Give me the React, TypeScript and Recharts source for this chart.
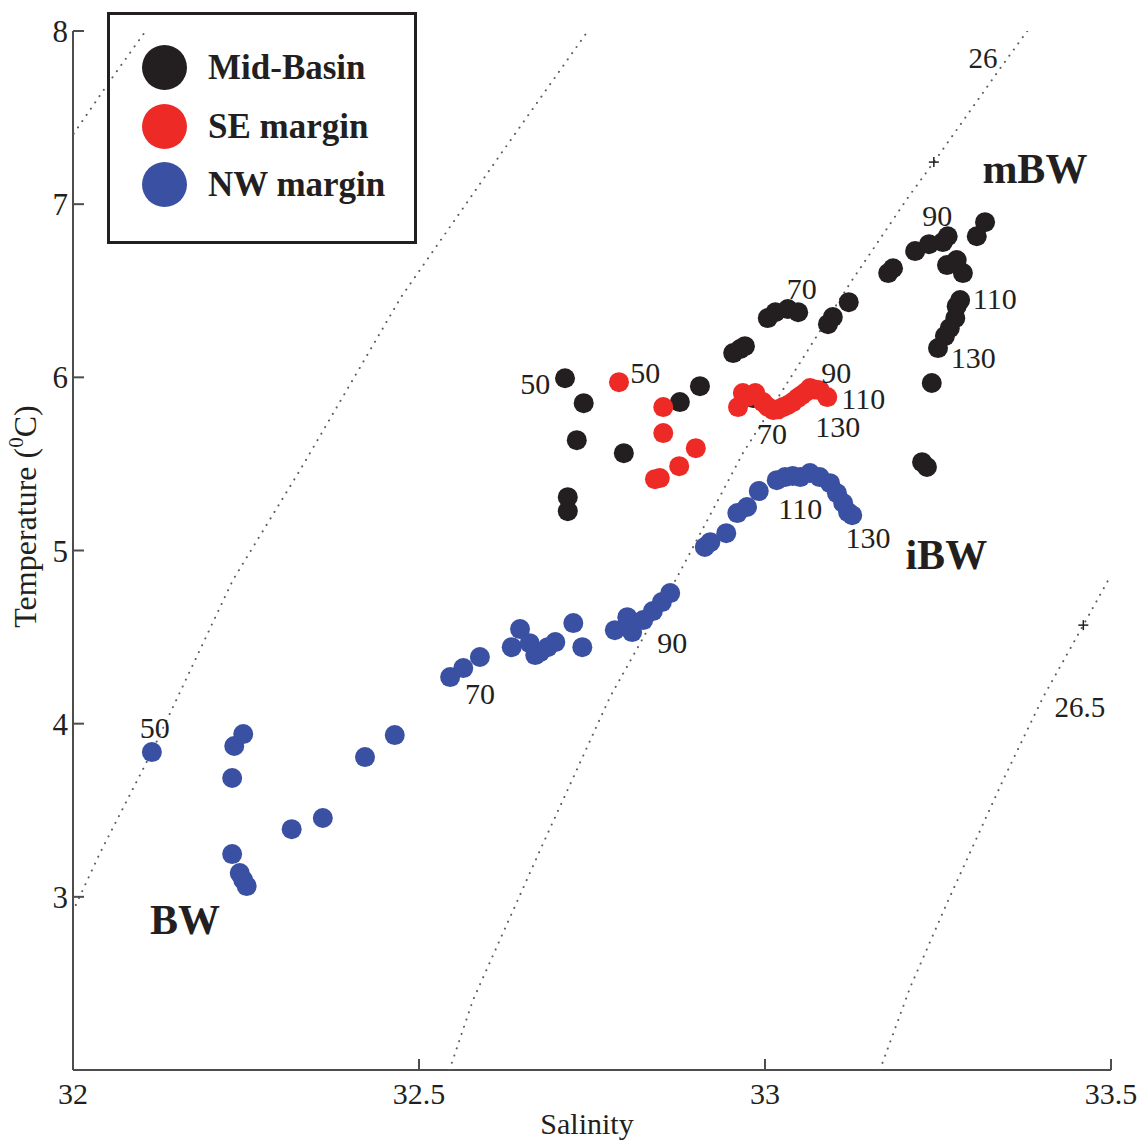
import { Label, Legend, Scatter, ScatterChart, XAxis, YAxis } from 'recharts';

const INK = '#231f20';
const AXIS_GREY = '#4d4d4d';
const DOT_GREY = '#5e5e5e';
const FONT = '"Liberation Serif", "Times New Roman", serif';

// [salinity, temperature]
const midBasin: [number, number][] = [
	[32.711, 5.995], [32.738, 5.851], [32.728, 5.637], [32.715, 5.308], [32.715, 5.227],
	[32.796, 5.562], [32.877, 5.857], [32.906, 5.949], [32.954, 6.14], [32.964, 6.163],
	[32.971, 6.18], [32.983, 5.88], [33.004, 6.342], [33.015, 6.376], [33.033, 6.394],
	[33.048, 6.376], [33.091, 6.307], [33.098, 6.348], [33.121, 6.434], [33.178, 6.602],
	[33.185, 6.63], [33.217, 6.729], [33.237, 6.769], [33.257, 6.781], [33.264, 6.815],
	[33.263, 6.648], [33.277, 6.677], [33.286, 6.602], [33.306, 6.815], [33.318, 6.896],
	[33.282, 6.446], [33.277, 6.411], [33.275, 6.342], [33.267, 6.284], [33.26, 6.238],
	[33.25, 6.169], [33.241, 5.967], [33.227, 5.51], [33.234, 5.482],
];

const seMargin: [number, number][] = [
	[32.789, 5.972], [32.853, 5.828], [32.853, 5.678], [32.9, 5.591], [32.876, 5.487],
	[32.848, 5.418], [32.841, 5.412], [32.961, 5.828], [32.968, 5.909], [32.976, 5.89],
	[32.986, 5.909], [32.997, 5.857], [33.004, 5.83], [33.012, 5.811], [33.019, 5.815],
	[33.026, 5.828], [33.033, 5.84], [33.04, 5.857], [33.047, 5.88], [33.053, 5.897],
	[33.059, 5.915], [33.065, 5.938], [33.072, 5.93], [33.079, 5.926], [33.09, 5.886],
];

const nwMargin: [number, number][] = [
	[32.114, 3.836], [32.23, 3.686], [32.233, 3.871], [32.246, 3.94], [32.23, 3.247],
	[32.241, 3.137], [32.246, 3.097], [32.251, 3.062], [32.316, 3.391], [32.361, 3.455],
	[32.422, 3.807], [32.465, 3.934], [32.545, 4.269], [32.564, 4.321], [32.588, 4.385],
	[32.634, 4.442], [32.646, 4.546], [32.66, 4.465], [32.668, 4.396], [32.675, 4.413],
	[32.686, 4.442], [32.697, 4.471], [32.723, 4.581], [32.736, 4.442], [32.783, 4.54],
	[32.801, 4.615], [32.808, 4.529], [32.824, 4.598], [32.838, 4.65], [32.851, 4.702],
	[32.863, 4.754], [32.913, 5.02], [32.921, 5.048], [32.944, 5.1], [32.96, 5.216],
	[32.974, 5.251], [32.991, 5.343], [33.017, 5.406], [33.029, 5.424], [33.04, 5.43],
	[33.051, 5.424], [33.065, 5.447], [33.079, 5.424], [33.094, 5.389], [33.104, 5.331],
	[33.113, 5.274], [33.12, 5.222], [33.126, 5.204],
];

// dotted sigma-t isopycnals
const sigma250: [number, number][] = [[32.001, 7.407], [32.053, 7.71], [32.105, 8.0]];
const sigma255: [number, number][] = [
	[32.004, 2.953], [32.039, 3.253], [32.113, 3.83], [32.231, 4.829],
	[32.328, 5.464], [32.474, 6.463], [32.617, 7.283], [32.744, 8.0],
];
const sigma260: [number, number][] = [
	[32.544, 2.0], [32.578, 2.404], [32.675, 3.27], [32.776, 4.154], [32.873, 4.846],
	[32.968, 5.562], [33.032, 5.967], [33.123, 6.544], [33.205, 7.029], [33.244, 7.243],
	[33.34, 7.785], [33.379, 8.0],
];
const sigma265: [number, number][] = [
	[33.166, 2.0], [33.21, 2.479], [33.263, 2.964], [33.344, 3.674],
	[33.402, 4.154], [33.46, 4.569], [33.5, 4.858],
];
const isoMarks: [number, number][] = [[33.244, 7.243], [33.46, 4.569]];
const isoLabels: [string, number, number][] = [['26', 33.315, 7.843], ['26.5', 33.455, 4.096]];

const depthLabels: [string, number, number][] = [
	['50', 32.668, 5.967], ['70', 33.053, 6.515], ['90', 33.249, 6.937], ['110', 33.332, 6.457], ['130', 33.301, 6.117],
	['50', 32.827, 6.03], ['70', 33.01, 5.678], ['90', 33.103, 6.03], ['110', 33.142, 5.88], ['130', 33.105, 5.715],
	['50', 32.118, 3.975], ['70', 32.588, 4.177], ['90', 32.866, 4.471], ['110', 33.051, 5.245], ['130', 33.149, 5.077],
];
const waterMassLabels: [string, number, number][] = [['mBW', 33.39, 7.202], ['iBW', 33.262, 4.973], ['BW', 32.162, 2.866]];

const xTicks = [32, 32.5, 33, 33.5];
const yTicks = [3, 4, 5, 6, 7, 8];

const seriesNames = ['Mid-Basin', 'SE margin', 'NW margin'];
const seriesColors = ['#231f20', '#ed2a26', '#3a50a2'];
const seriesData = [midBasin, seMargin, nwMargin];

const toPts = (arr: [number, number][]) => arr.map(([s, t]) => ({ s, t }));
const toTextPts = (arr: [string, number, number][]) => arr.map(([text, s, t]) => ({ s, t, text }));

function SalinityTick({ x, y, payload }: any) {
	return (
		<g>
			<line x1={x} y1={y} x2={x} y2={y - 11} stroke={AXIS_GREY} strokeWidth={2} />
			<text x={x} y={y + 34} textAnchor="middle" fontSize={30} fontFamily={FONT} fill={INK}>
				{payload.value}
			</text>
		</g>
	);
}

function TempTick({ x, y, payload }: any) {
	return (
		<g>
			<line x1={x} y1={y} x2={x + 11} y2={y} stroke={AXIS_GREY} strokeWidth={2} />
			<text x={x - 5} y={y + 11} textAnchor="end" fontSize={31} fontFamily={FONT} fill={INK}>
				{payload.value}
			</text>
		</g>
	);
}

const textShape = (size: number, weight: number) => (p: any) => (
	<text
		x={p.cx}
		y={p.cy}
		textAnchor="middle"
		dominantBaseline="central"
		fontSize={size}
		fontWeight={weight}
		fontFamily={FONT}
		fill={INK}
	>
		{p.payload.text}
	</text>
);

const plusShape = (p: any) => (
	<g stroke={INK} strokeWidth={1.5}>
		<line x1={p.cx - 5} y1={p.cy} x2={p.cx + 5} y2={p.cy} />
		<line x1={p.cx} y1={p.cy - 5} x2={p.cx} y2={p.cy + 5} />
	</g>
);

const dotLine = { stroke: DOT_GREY, strokeWidth: 2, strokeDasharray: '0.1 7.5', strokeLinecap: 'round' as const };

function LegendBox() {
	return (
		<div
			style={{
				position: 'relative',
				width: 310,
				height: 232,
				border: `3px solid ${INK}`,
				boxSizing: 'border-box',
				fontFamily: FONT,
			}}
		>
			{seriesNames.map((name, i) => (
				<div
					key={name}
					style={{ position: 'absolute', left: 32, top: 30 + i * 58.5, height: 45, display: 'flex', alignItems: 'center' }}
				>
					<span
						style={{ width: 45, height: 45, borderRadius: '50%', background: seriesColors[i], display: 'inline-block' }}
					/>
					<span style={{ marginLeft: 21, fontSize: 35, fontWeight: 700, color: INK, lineHeight: '45px', whiteSpace: 'nowrap' }}>
						{name}
					</span>
				</div>
			))}
		</div>
	);
}

export default function App() {
	return (
		<div style={{ position: 'absolute', left: 0, top: 0, width: 1142, height: 1141, background: '#fff' }}>
			<ScatterChart width={1142} height={1141} margin={{ top: 31, right: 31, bottom: 0, left: 0 }}>
				<XAxis
					type="number"
					dataKey="s"
					domain={[32, 33.5]}
					ticks={xTicks}
					interval={0}
					height={71}
					tickSize={0}
					tickMargin={0}
					tick={<SalinityTick />}
					axisLine={{ stroke: AXIS_GREY, strokeWidth: 2 }}
					allowDataOverflow
				>
					<Label
						content={({ viewBox }: any) => (
							<text
								x={viewBox.x + viewBox.width / 2 - 5}
								y={viewBox.y + 64}
								textAnchor="middle"
								fontSize={30}
								fontFamily={FONT}
								fill={INK}
							>
								Salinity
							</text>
						)}
					/>
				</XAxis>
				<YAxis
					type="number"
					dataKey="t"
					domain={[2, 8]}
					ticks={yTicks}
					interval={0}
					width={73}
					tickSize={0}
					tickMargin={0}
					tick={<TempTick />}
					axisLine={{ stroke: AXIS_GREY, strokeWidth: 2 }}
					allowDataOverflow
				>
					<Label
						content={({ viewBox }: any) => {
							const cx = viewBox.x + viewBox.width - 37;
							const cy = viewBox.y + viewBox.height / 2 - 34;
							return (
								<text
									transform={`translate(${cx},${cy}) rotate(-90)`}
									textAnchor="middle"
									fontSize={32}
									fontFamily={FONT}
									fill={INK}
								>
									Temperature (
									<tspan fontSize={21} dy={-13}>
										0
									</tspan>
									<tspan dy={13}>C)</tspan>
								</text>
							);
						}}
					/>
				</YAxis>

				{[sigma250, sigma255, sigma260, sigma265].map((iso, i) => (
					<Scatter
						key={`iso${i}`}
						data={toPts(iso)}
						line={dotLine}
						lineType="joint"
						shape={() => <g />}
						isAnimationActive={false}
					/>
				))}
				<Scatter data={toPts(isoMarks)} shape={plusShape} isAnimationActive={false} />

				{seriesData.map((arr, i) => (
					<Scatter
						key={seriesNames[i]}
						name={seriesNames[i]}
						data={toPts(arr)}
						fill={seriesColors[i]}
						shape={(p: any) => <circle cx={p.cx} cy={p.cy} r={10} fill={seriesColors[i]} />}
						isAnimationActive={false}
					/>
				))}

				<Scatter data={toTextPts(depthLabels)} shape={textShape(30, 400)} isAnimationActive={false} />
				<Scatter data={toTextPts(isoLabels)} shape={textShape(29, 400)} isAnimationActive={false} />
				<Scatter data={toTextPts(waterMassLabels)} shape={textShape(42, 700)} isAnimationActive={false} />

				<Legend
					layout="vertical"
					align="center"
					verticalAlign="middle"
					content={() => <LegendBox />}
					wrapperStyle={{ position: 'absolute', left: 107, top: 12, width: 310, height: 232 }}
				/>
			</ScatterChart>
		</div>
	);
}
